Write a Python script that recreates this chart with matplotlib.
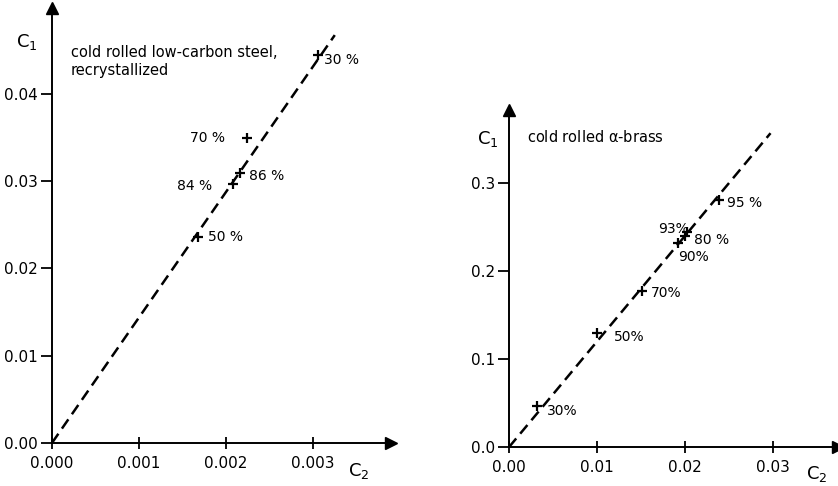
import numpy as np
import matplotlib.pyplot as plt

plt.rcParams['font.family'] = 'DejaVu Sans'
plt.rcParams['mathtext.default'] = 'regular'

# left panel: cold rolled low-carbon steel, recrystallized
steel_c2 = [0.00306, 0.00224, 0.00216, 0.00208, 0.00168]
steel_c1 = [0.0444, 0.0349, 0.0309, 0.0297, 0.0236]
steel_lbl = ['30 %', '70 %', '86 %', '84 %', '50 %']
steel_fit_x = [0.0, 0.00325]
steel_fit_y = [0.0, 0.0467]
steel_xticks = [0.000, 0.001, 0.002, 0.003]
steel_yticks = [0.00, 0.01, 0.02, 0.03, 0.04]

# right panel: cold rolled alpha-brass
brass_c2 = [0.0239, 0.0202, 0.0200, 0.0192, 0.0151, 0.0100, 0.0032]
brass_c1 = [0.281, 0.245, 0.240, 0.232, 0.178, 0.130, 0.047]
brass_lbl = ['95 %', '93%', '80 %', '90%', '70%', '50%', '30%']
brass_fit_x = [0.0, 0.0297]
brass_fit_y = [0.0, 0.357]
brass_xticks = [0.00, 0.01, 0.02, 0.03]
brass_yticks = [0.0, 0.1, 0.2, 0.3]

# label offsets in pixels (dx, dy, ha)
steel_off = [(6, -5, 'left'), (-22, 0, 'right'), (9, -3, 'left'),
             (-21, -2, 'right'), (10, 0, 'left')]
brass_off = [(8, -3, 'left'), (2, 3, 'right'), (9, -4, 'left'),
             (0, -14, 'left'), (9, -2, 'left'), (17, -4, 'left'), (10, -5, 'left')]

fig = plt.figure(figsize=(8.38, 4.86), dpi=100)
ax1 = fig.add_axes([0.062, 0.0885, 0.405, 0.895])
ax2 = fig.add_axes([0.6074, 0.080, 0.393, 0.693])


def style(ax, xlim, ylim, xticks, yticks, xfmt, yfmt):
    ax.set_xlim(*xlim)
    ax.set_ylim(*ylim)
    for s in ['top', 'right']:
        ax.spines[s].set_visible(False)
    for s in ['left', 'bottom']:
        ax.spines[s].set_linewidth(1.4)
    ax.set_xticks(xticks)
    ax.set_yticks(yticks)
    ax.set_xticklabels([xfmt.format(v) for v in xticks])
    ax.set_yticklabels([yfmt.format(v) for v in yticks])
    ax.tick_params(axis='x', direction='inout', length=9, width=1.3, labelsize=11, pad=5)
    ax.tick_params(axis='y', direction='out', length=8, width=1.3, labelsize=11, pad=2)
    # arrow heads
    ax.plot(1, 0, '>k', ms=9, transform=ax.transAxes, clip_on=False)
    ax.plot(0, 1, '^k', ms=9, transform=ax.transAxes, clip_on=False)


def panel(ax, xs, ys, lbls, offs, fx, fy):
    ax.plot(fx, fy, color='black', lw=1.8, dashes=(4.5, 2.5))
    ax.plot(xs, ys, '+', color='black', ms=7, mew=1.6, ls='none')
    for x, y, t, (dx, dy, ha) in zip(xs, ys, lbls, offs):
        ax.annotate(t, (x, y), xytext=(dx, dy), textcoords='offset pixels',
                    ha=ha, va='center', fontsize=10)


style(ax1, (0, 0.0039), (0, 0.0498), steel_xticks, steel_yticks, '{:.3f}', '{:.2f}')
panel(ax1, steel_c2, steel_c1, steel_lbl, steel_off, steel_fit_x, steel_fit_y)
ax1.text(0.055, 0.915, 'cold rolled low-carbon steel,\nrecrystallized',
         transform=ax1.transAxes, fontsize=10.5, va='top', linespacing=1.25)
ax1.text(-0.075, 0.91, 'C$_1$', transform=ax1.transAxes, fontsize=13, ha='center')
ax1.text(0.905, -0.075, 'C$_2$', transform=ax1.transAxes, fontsize=13, ha='center')

style(ax2, (0, 0.0374), (0, 0.383), brass_xticks, brass_yticks, '{:.2f}', '{:.1f}')
panel(ax2, brass_c2, brass_c1, brass_lbl, brass_off, brass_fit_x, brass_fit_y)
ax2.text(0.055, 0.92, 'cold rolled $\\alpha$-brass', transform=ax2.transAxes,
         fontsize=10.5, va='center')
ax2.text(-0.065, 0.9, 'C$_1$', transform=ax2.transAxes, fontsize=13, ha='center')
ax2.text(0.935, -0.095, 'C$_2$', transform=ax2.transAxes, fontsize=13, ha='center')

fig.savefig('out.png', dpi=100)
